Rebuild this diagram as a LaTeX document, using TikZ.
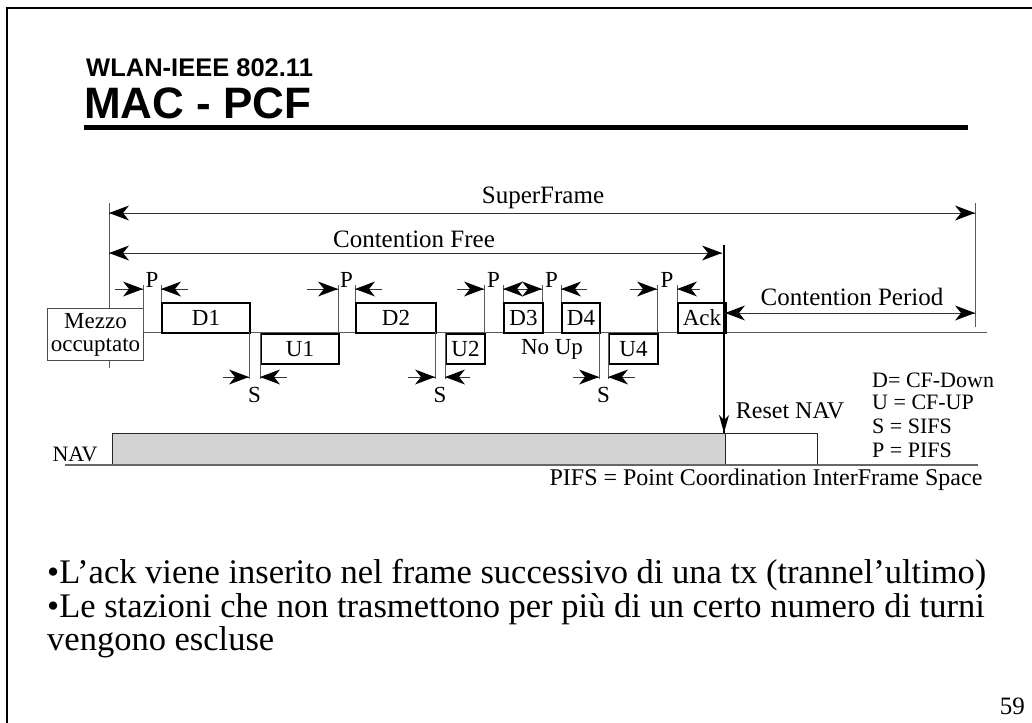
\documentclass[tikz,border=0pt]{standalone}
\usepackage{fontspec}
\setmainfont{Liberation Serif}
\newfontfamily\titlesans{Liberation Sans}
\usetikzlibrary{arrows.meta}
\definecolor{navgray}{RGB}{211,211,211}
\definecolor{linegray}{RGB}{90,90,90}
\tikzset{
  tipR/.pic={\fill[black] (0,0) -- (-20,-7.5) -- (-14,0) -- (-20,7.5) -- cycle;},
  tipL/.pic={\fill[black] (0,0) -- (20,-7.5) -- (14,0) -- (20,7.5) -- cycle;},
  tipD/.pic={\fill[black] (0,0) -- (-5,-18) -- (0,-13) -- (5,-18) -- cycle;},
  gline/.style={draw=linegray, line width=1pt},
  dimline/.style={draw=black!80, line width=0.9pt},
  framebox/.style={draw=black, line width=2pt, fill=white, inner sep=0pt, anchor=north west, minimum height=30pt, font=\fontsize{23}{26}\selectfont},
  lbl/.style={inner sep=0pt, anchor=base, font=\fontsize{23}{26}\selectfont},
  biglbl/.style={inner sep=0pt, anchor=base, font=\fontsize{25}{28}\selectfont},
  legend/.style={inner sep=0pt, anchor=base west, font=\fontsize{22}{24}\selectfont},
  bullet/.style={inner sep=0pt, anchor=base west, font=\fontsize{34.5}{40}\selectfont},
}
\begin{document}
\begin{tikzpicture}[x=1pt,y=-1pt]
\useasboundingbox (0,0) rectangle (1032,722);
\clip (0,0) rectangle (1032,722);
\fill[white] (0,0) rectangle (1032,722);
% slide frame
\draw[line width=2.5pt] (7,8) rectangle (1045,735);
% title
\node[inner sep=0pt, anchor=base west, font=\titlesans\bfseries\fontsize{25.5}{30}\selectfont] (t1) at (86,77) {WLAN-IEEE 802.11};
\node[inner sep=0pt, anchor=base west, font=\titlesans\bfseries\fontsize{44}{50}\selectfont] (t2) at (84,119) {MAC - PCF};
\draw[line width=5pt] (84,128) -- (968,128);

% long verticals
\draw[gline] (109,203) -- (109,368);
\draw[gline] (975,203) -- (975,327);
% baseline of medium
\draw[gline] (143,332) -- (987,332);

% boxes
\node[draw=black!70, line width=1pt, fill=white, inner sep=0pt, anchor=north west, minimum width=96pt, minimum height=52pt, align=center, font=\fontsize{23}{23}\selectfont] (mz) at (47,308) {Mezzo\\occuptato};
\node[framebox, minimum width=88pt] (d1) at (161,302) {D1};
\node[framebox, minimum width=78pt] (u1) at (260,333) {U1};
\node[framebox, minimum width=80pt] (d2) at (355,302) {D2};
\node[framebox, minimum width=39pt] (u2) at (445,333) {U2};
\node[framebox, minimum width=39pt] (d3) at (503,302) {D3};
\node[framebox, minimum width=38pt] (d4) at (561,302) {D4};
\node[framebox, minimum width=49pt] (u4) at (608,333) {U4};
\node[framebox, minimum width=48pt] (ack) at (677,302) {Ack};
\node[inner sep=0pt, font=\fontsize{23}{26}\selectfont] (noup) at (552,349) {No Up};

% P gap verticals
\foreach \x/\y in {143/332,161/302,338/333,355/302,484/333,503/302,542/302,561/302,657/333,677/302}
  \draw[gline] (\x,285) -- (\x,\y);
% S gap verticals
\foreach \x in {249,260,435,445,599,608}
  \draw[gline] (\x,332) -- (\x,379);

% P markers
\coordinate (pa1) at (143,289); \coordinate (pb1) at (161,289);
\coordinate (pa2) at (338,289); \coordinate (pb2) at (355,289);
\coordinate (pa3) at (484,289); \coordinate (pb3) at (503,289);
\coordinate (pa4) at (542,289); \coordinate (pb4) at (561,289);
\coordinate (pa5) at (657,289); \coordinate (pb5) at (677,289);
\draw[dimline] (115,289) -- (pa1) pic {tipR};
\draw[dimline] (188,289) -- (pb1) pic {tipL};
\draw[dimline] (307,289) -- (pa2) pic {tipR};
\draw[dimline] (382,289) -- (pb2) pic {tipL};
\draw[dimline] (457,289) -- (pa3) pic {tipR};
\draw[dimline] (pb3) pic {tipL} -- (pa4) pic {tipR};
\draw[dimline] (587,289) -- (pb4) pic {tipL};
\draw[dimline] (630,289) -- (pa5) pic {tipR};
\draw[dimline] (700,289) -- (pb5) pic {tipL};
\node[lbl] (p1) at (152,287) {P};
\node[lbl] (p2) at (346.5,287) {P};
\node[lbl] (p3) at (493.5,287) {P};
\node[lbl] (p4) at (551.5,287) {P};
\node[lbl] (p5) at (667,287) {P};

% S markers
\coordinate (sa1) at (249,377); \coordinate (sb1) at (260,377);
\coordinate (sa2) at (435,377); \coordinate (sb2) at (445,377);
\coordinate (sa3) at (599,377); \coordinate (sb3) at (608,377);
\draw[dimline] (223,377) -- (sa1) pic {tipR};
\draw[dimline] (287,377) -- (sb1) pic {tipL};
\draw[dimline] (408,377) -- (sa2) pic {tipR};
\draw[dimline] (470,377) -- (sb2) pic {tipL};
\draw[dimline] (573,377) -- (sa3) pic {tipR};
\draw[dimline] (635,377) -- (sb3) pic {tipL};
\node[lbl] (s1) at (254.5,402) {S};
\node[lbl] (s2) at (440,402) {S};
\node[lbl] (s3) at (603.5,402) {S};

% period arrows
\coordinate (sfl) at (109,213); \coordinate (sfr) at (975,213);
\coordinate (cfl) at (109,253); \coordinate (cfr) at (722,253);
\coordinate (cpl) at (725,313); \coordinate (cpr) at (975,313);
\draw[dimline] (sfl) pic {tipL} -- (sfr) pic {tipR};
\draw[dimline] (cfl) pic {tipL} -- (cfr) pic {tipR};
\draw[dimline] (cpl) pic {tipL} -- (cpr) pic {tipR};
\node[biglbl] (sf) at (543,203) {SuperFrame};
\node[biglbl] (cf) at (414,247) {Contention Free};
\node[biglbl] (cp) at (852,305) {Contention Period};

% NAV
\node[draw=black!85, line width=1.2pt, fill=navgray, inner sep=0pt, anchor=north west, minimum width=613pt, minimum height=32pt] (navbar) at (112,433) {};
\node[draw=black!85, line width=1.2pt, fill=white, inner sep=0pt, anchor=north west, minimum width=92pt, minimum height=32pt] (reset) at (725,433) {};
\draw[draw=black!60, line width=1.8pt] (65,465) -- (978,465);
\coordinate (acktop) at (724,245);
\coordinate (ackbot) at (724,433);
\draw[draw=black, line width=1.2pt] (acktop) -- (ackbot) pic {tipD};
\node[inner sep=0pt, anchor=base, font=\fontsize{22}{24}\selectfont] (nav) at (75,461) {NAV};
\node[inner sep=0pt, anchor=base, font=\fontsize{24}{26}\selectfont] (rnav) at (790,418) {Reset NAV};

% legend
\node[legend] (l1) at (872,387) {D= CF-Down};
\node[legend] (l2) at (872,409) {U = CF-UP};
\node[legend] (l3) at (872,433) {S = SIFS};
\node[legend] (l4) at (872,457) {P = PIFS};
\node[inner sep=0pt, anchor=base, font=\fontsize{24}{26}\selectfont] (pifs) at (766,485) {PIFS = Point Coordination InterFrame Space};

% bullets
\node[bullet] (b1) at (47,583) {•L’ack viene inserito nel frame successivo di una tx (trannel’ultimo)};
\node[bullet] (b2) at (47,617) {•Le stazioni che non trasmettono per più di un certo numero di turni};
\node[bullet] (b3) at (47,650) {vengono escluse};

\node[inner sep=0pt, anchor=base east, font=\fontsize{25}{28}\selectfont] (pg) at (1025,714) {59};
\end{tikzpicture}
\end{document}
